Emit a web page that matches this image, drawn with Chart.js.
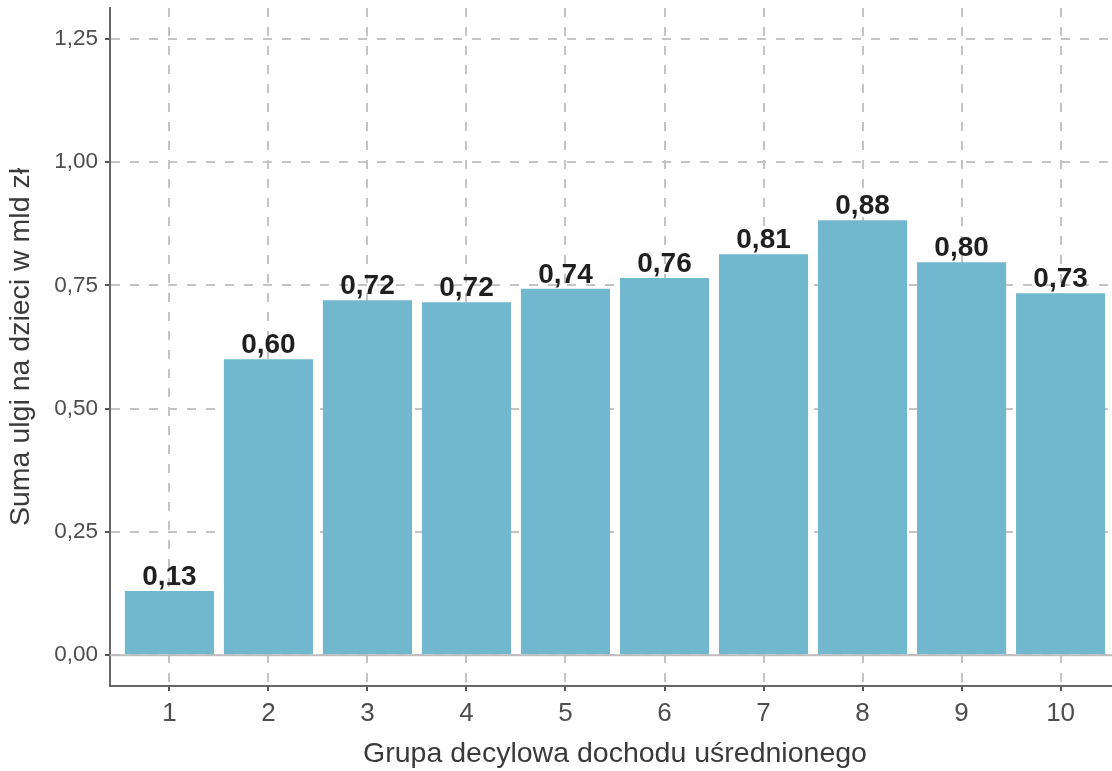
<!DOCTYPE html>
<html>
<head>
<meta charset="utf-8">
<script src="https://cdn.jsdelivr.net/npm/chart.js@4/dist/chart.umd.min.js"></script>
<style>
  html, body { margin: 0; padding: 0; background: #fff; overflow: hidden; }
  #wrap { position: relative; width: 1120px; height: 771px; }
</style>
</head>
<body>
<div id="wrap"><canvas id="c"></canvas></div>
<script>
const categories = [1, 2, 3, 4, 5, 6, 7, 8, 9, 10];
const values = [0.13, 0.60, 0.72, 0.716, 0.743, 0.765, 0.813, 0.882, 0.797, 0.734];
const valueLabels = ['0,13', '0,60', '0,72', '0,72', '0,74', '0,76', '0,81', '0,88', '0,80', '0,73'];
const yTicks = [0, 0.25, 0.5, 0.75, 1.0, 1.25];
const xTitle = 'Grupa decylowa dochodu uśrednionego';
const yTitle = 'Suma ulgi na dzieci w mld zł';

const FONT = "'Liberation Sans', Arial, sans-serif";

const fmt = v => v.toFixed(2).replace('.', ',');

const baselinePlugin = {
  id: 'baseline',
  afterDatasetsDraw(chart) {
    const {ctx, chartArea, scales} = chart;
    const y = scales.y.getPixelForValue(0);
    ctx.save();
    ctx.strokeStyle = '#bdbdbd';
    ctx.lineWidth = 2;
    ctx.beginPath();
    ctx.moveTo(chartArea.left, y);
    ctx.lineTo(chartArea.right, y);
    ctx.stroke();
    ctx.restore();
  }
};

const labelPlugin = {
  id: 'barLabels',
  afterDatasetsDraw(chart) {
    const {ctx} = chart;
    const meta = chart.getDatasetMeta(0);
    ctx.save();
    ctx.font = "bold 28px " + FONT;
    ctx.fillStyle = '#1f1f1f';
    ctx.textAlign = 'center';
    ctx.textBaseline = 'alphabetic';
    meta.data.forEach((bar, i) => {
      ctx.fillText(valueLabels[i], bar.x, bar.y - 6);
    });
    ctx.restore();
  }
};

new Chart(document.getElementById('c'), {
  type: 'bar',
  data: {
    datasets: [{
      data: categories.map((c, i) => ({x: c, y: values[i]})),
      backgroundColor: '#71b8cf',
      borderWidth: 0,
      barPercentage: 0.9,
      categoryPercentage: 1.0
    }]
  },
  options: {
    responsive: true,
    maintainAspectRatio: false,
    animation: false,
    layout: { padding: { top: 8, right: 0, left: 0, bottom: 0 } },
    plugins: { legend: { display: false }, tooltip: { enabled: false } },
    scales: {
      x: {
        type: 'linear',
        min: 0.4,
        max: 10.6,
        offset: false,
        afterBuildTicks: s => { s.ticks = categories.map(v => ({value: v})); },
        afterFit: s => { s.height = 85; s.paddingLeft = 0; s.paddingRight = 0; },
        ticks: {
          autoSkip: false,
          maxRotation: 0,
          color: '#4d4d4d',
          font: { family: FONT, size: 26 },
          padding: 7,
          callback: v => String(v)
        },
        grid: {
          offset: false,
          color: '#c4c4c4',
          lineWidth: 2,
          drawTicks: true,
          tickLength: 5,
          tickColor: '#555555',
          tickWidth: 2
        },
        border: { display: true, color: '#666666', width: 2, dash: [9, 10] },
        title: {
          display: true,
          text: xTitle,
          color: '#3a3a3a',
          font: { family: FONT, size: 28.5, lineHeight: 1.2 },
          padding: { top: 0, bottom: 0 }
        }
      },
      y: {
        min: -0.0625,
        max: 1.3125,
        afterBuildTicks: s => { s.ticks = yTicks.map(v => ({value: v})); },
        afterFit: s => { s.width = 110; s.paddingTop = 0; s.paddingBottom = 0; },
        ticks: {
          color: '#4d4d4d',
          font: { family: FONT, size: 22.5 },
          padding: 7,
          callback: v => fmt(v)
        },
        grid: {
          color: '#c4c4c4',
          lineWidth: 2,
          drawTicks: true,
          tickLength: 5,
          tickColor: '#555555',
          tickWidth: 2
        },
        border: { display: true, color: '#666666', width: 2, dash: [9, 10] },
        title: {
          display: true,
          text: yTitle,
          color: '#3a3a3a',
          font: { family: FONT, size: 28.5, lineHeight: 1.2 },
          padding: { top: 4, bottom: 0 }
        }
      }
    }
  },
  plugins: [baselinePlugin, labelPlugin]
});
</script>
</body>
</html>
